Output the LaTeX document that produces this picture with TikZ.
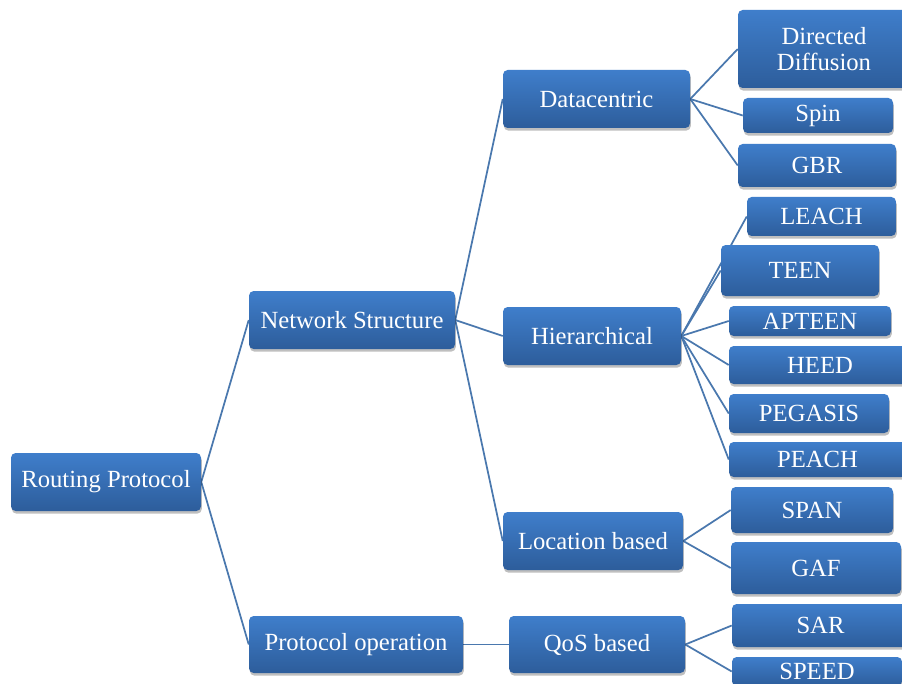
\documentclass[tikz,border=0pt]{standalone}
\usepackage{fontspec}
\setmainfont{Liberation Serif}
\usetikzlibrary{shadows}
\pgfdeclarelayer{back}
\pgfdeclarelayer{bg}
\pgfsetlayers{back,bg,main}
\definecolor{boxtop}{HTML}{3F7ECB}
\definecolor{boxbot}{HTML}{2D5D9B}
\definecolor{linecol}{HTML}{4A78AE}
\tikzset{
  box/.style={rectangle, rounded corners=3.5pt, top color=boxtop, bottom color=boxbot,
    draw=none, text=white, inner sep=0pt, align=center,
    font=\fontsize{18.5}{21}\selectfont,
    drop shadow={shadow xshift=0.6pt, shadow yshift=-2pt, opacity=0.25, fill=black}},
  conn/.style={draw=linecol, line width=1.3pt}
}
\newcommand{\bx}[6]{% name, x1, y1, x2, y2, text
  \node[box, minimum width={(#4-#2)*0.75pt}, minimum height={(#5-#3)*0.75pt}]
    (#1) at ({(#2+#4)/2},{(#3+#5)/2}) {#6};}
\begin{document}
\begin{tikzpicture}[x=0.75pt,y=-0.75pt]
\clip (0,0) rectangle (902,684);
\begin{pgfonlayer}{back}
\fill[white] (0,0) rectangle (902,684);
\end{pgfonlayer}
% level 1
\bx{rp}{11}{453}{201}{511}{Routing Protocol}
% level 2
\bx{ns}{249}{291}{455}{349}{Network Structure}
\bx{po}{249}{616}{463}{673}{Protocol operation}
% level 3
\bx{dc}{503}{70}{690}{128}{Datacentric}
\bx{hi}{503}{307}{681}{365}{Hierarchical}
\bx{lb}{503}{512}{683}{570}{Location based}
\bx{qos}{509}{616}{685}{673}{QoS based}
% level 4
\bx{dd}{738}{10}{910}{88}{Directed\\[-2pt]Diffusion}
\bx{spin}{743}{98}{893}{133}{Spin}
\bx{gbr}{738}{144}{896}{187}{GBR}
\bx{leach}{747}{197}{896}{236}{LEACH}
\bx{teen}{721}{245}{879}{296}{TEEN}
\bx{apteen}{729}{306}{891}{336}{APTEEN}
\bx{heed}{729}{346}{911}{384}{HEED}
\bx{pegasis}{729}{394}{889}{433}{PEGASIS}
\bx{peach}{729}{442}{906}{477}{PEACH}
\bx{span}{731}{487}{893}{533}{SPAN}
\bx{gaf}{731}{542}{901}{594}{GAF}
\bx{sar}{732}{604}{909}{647}{SAR}
\bx{speed}{732}{657}{902}{686}{SPEED}
\begin{pgfonlayer}{bg}
\draw[conn] (rp.east) -- (ns.west);
\draw[conn] (rp.east) -- (po.west);
\draw[conn] (ns.east) -- (dc.west);
\draw[conn] (ns.east) -- (hi.west);
\draw[conn] (ns.east) -- (lb.west);
\draw[conn] (po.east) -- (qos.west);
\draw[conn] (dc.east) -- (dd.west);
\draw[conn] (dc.east) -- (spin.west);
\draw[conn] (dc.east) -- (gbr.west);
\draw[conn] (hi.east) -- (leach.west);
\draw[conn] (hi.east) -- (teen.west);
\draw[conn] (hi.east) -- (apteen.west);
\draw[conn] (hi.east) -- (heed.west);
\draw[conn] (hi.east) -- (pegasis.west);
\draw[conn] (hi.east) -- (peach.west);
\draw[conn] (lb.east) -- (span.west);
\draw[conn] (lb.east) -- (gaf.west);
\draw[conn] (qos.east) -- (sar.west);
\draw[conn] (qos.east) -- (speed.west);
\end{pgfonlayer}
\end{tikzpicture}
\end{document}
